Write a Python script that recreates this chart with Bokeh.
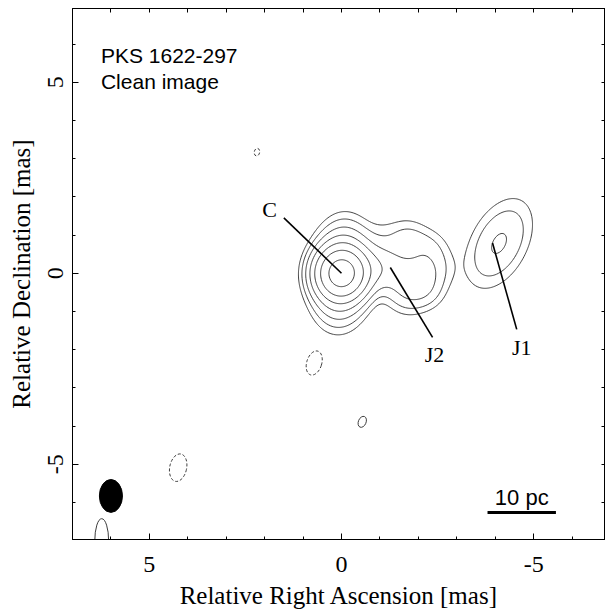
import numpy as np
import contourpy
from bokeh.plotting import figure
from bokeh.models import Range1d, LinearAxis, FixedTicker
from bokeh.core.properties import value
from bokeh.embed import file_html
from bokeh.resources import INLINE

# ---------------- data ----------------
# Gaussian model components of the clean image (RA offset, Dec offset in mas)
#            core  core  K     A      B      T      UR     R      LR     Bt     bridge J1
comp_ra   = [0.0,  0.0, -0.95, -1.60, -2.00, -1.70, -2.25, -2.40, -2.20, -1.70, -1.00, -4.10]
comp_dec  = [0.0,  0.0,  0.15, -0.05, -0.20,  0.90,  0.60,  0.10, -0.45, -0.60,  0.95,  0.78]
comp_flux = [75.0, 20.0, 5.5,  3.0,   2.4,   2.2,   2.2,   2.0,   2.0,   2.0,   0.8,   4.3]
comp_smaj = [0.36, 0.66, 0.38, 0.38,  0.33,  0.35,  0.35,  0.33,  0.33,  0.35,  0.35,  0.74]
comp_smin = [0.36, 0.40, 0.38, 0.38,  0.33,  0.35,  0.35,  0.33,  0.33,  0.35,  0.35,  0.43]
comp_pa   = [0.0,  95.0, 0.0,  0.0,   0.0,   0.0,   0.0,   0.0,   0.0,   0.0,   0.0, 117.0]
contour_levels = [1, 2, 4, 8, 16, 32, 64]

# isolated weak features (ellipses): negative (dashed) and positive (solid)
neg_ra  = [2.20, 0.71, 4.25]
neg_dec = [3.17, -2.35, -5.09]
neg_w   = [0.14, 0.39, 0.44]
neg_h   = [0.20, 0.65, 0.73]
neg_ang = [-0.2, -0.3, -0.2]
pos_ra  = [-0.54, 6.24]
pos_dec = [-3.89, -7.00]
pos_w   = [0.20, 0.36]
pos_h   = [0.30, 1.15]
pos_ang = [-0.4, 0.0]

# restoring beam
beam_ra, beam_dec, beam_w, beam_h = [6.0], [-5.83], [0.60], [0.86]

# scale bar (10 pc)
bar_ra = [-3.80, -5.58]
bar_dec = [-6.26, -6.26]

# component labels and pointer lines
lab_text = ["C", "J2", "J1"]
lab_ra = [1.87, -2.42, -4.69]
lab_dec = [1.66, -2.12, -1.94]
ptr_ra = [[1.50, 0.00], [-1.27, -2.37], [-3.93, -4.56]]
ptr_dec = [[1.45, 0.00], [0.15, -1.68], [0.79, -1.47]]

tick_major = [-5, 0, 5]
tick_minor = list(range(-7, 8))

# ---------------- model image ----------------
gx = np.linspace(-7.3, 7.3, 585)
gy = np.linspace(-7.3, 7.3, 585)
X, Y = np.meshgrid(gx, gy)
Z = np.zeros_like(X)
for x0, y0, f, smaj, smin, pa in zip(comp_ra, comp_dec, comp_flux, comp_smaj, comp_smin, comp_pa):
    t = np.deg2rad(pa)
    dx, dy = X - x0, Y - y0
    u = dx * np.cos(t) + dy * np.sin(t)
    v = -dx * np.sin(t) + dy * np.cos(t)
    Z += f * np.exp(-0.5 * ((u / smaj) ** 2 + (v / smin) ** 2))

gen = contourpy.contour_generator(gx, gy, Z, line_type="Separate")
cxs, cys = [], []
for lev in contour_levels:
    for seg in gen.lines(lev):
        cxs.append(seg[:, 0].tolist())
        cys.append(seg[:, 1].tolist())

# ---------------- figure ----------------
p = figure(width=605, height=611, x_range=Range1d(7.0, -6.87), y_range=Range1d(-6.97, 6.93),
           output_backend="svg", toolbar_location=None,
           x_axis_location=None, y_axis_location=None,
           min_border_left=72, min_border_right=0, min_border_top=8, min_border_bottom=70)
p.grid.visible = False
p.outline_line_color = "black"
p.outline_line_width = 1
p.background_fill_color = "white"
p.border_fill_color = "white"

serif = "Liberation Serif"
sans = "Liberation Sans"
overrides = {-5: "-5", 0: "0", 5: "5"}


def make_axis(label):
    ax = LinearAxis(ticker=FixedTicker(ticks=tick_major, minor_ticks=tick_minor))
    ax.major_tick_in = 6
    ax.major_tick_out = 0
    ax.minor_tick_in = 3
    ax.minor_tick_out = 0
    ax.axis_line_color = "black"
    ax.major_tick_line_color = "black"
    ax.minor_tick_line_color = "black"
    ax.major_label_overrides = overrides
    ax.major_label_text_font = serif
    ax.major_label_text_font_size = "24px"
    ax.major_label_text_color = "black"
    ax.axis_label = label
    ax.axis_label_text_font = serif
    ax.axis_label_text_font_size = "25px"
    ax.axis_label_text_font_style = "normal"
    ax.axis_label_text_color = "black"
    return ax


def tick_only_axis():
    # frame edge with tick marks only (no labels)
    ax = LinearAxis(ticker=FixedTicker(ticks=[], minor_ticks=tick_minor))
    ax.minor_tick_in = 4
    ax.minor_tick_out = 0
    ax.axis_line_color = "black"
    ax.minor_tick_line_color = "black"
    ax.major_label_standoff = 0
    return ax


bottom = make_axis("Relative Right Ascension [mas]")
bottom.major_label_standoff = 17
bottom.axis_label_standoff = 7
p.add_layout(bottom, "below")

left = make_axis("Relative Declination [mas]")
left.major_label_orientation = "vertical"
left.major_label_standoff = 9
left.axis_label_standoff = 11
p.add_layout(left, "left")

p.add_layout(tick_only_axis(), "above")
p.add_layout(tick_only_axis(), "right")

# contours
p.multi_line(cxs, cys, line_color="#3c3c3c", line_width=1)
p.ellipse(x=neg_ra, y=neg_dec, width=neg_w, height=neg_h, angle=neg_ang,
          fill_color=None, line_color="#3c3c3c", line_width=1, line_dash="3 2")
p.ellipse(x=pos_ra, y=pos_dec, width=pos_w, height=pos_h, angle=pos_ang,
          fill_color=None, line_color="#3c3c3c", line_width=1)

# beam
p.ellipse(x=beam_ra, y=beam_dec, width=beam_w, height=beam_h, fill_color="black", line_color="black")

# scale bar
p.line(bar_ra, bar_dec, line_color="black", line_width=3)
p.text(x=[-4.69], y=[-5.88], text=["10 pc"], text_font=value(sans), text_font_size="22px",
       text_align="center", text_baseline="alphabetic", text_color="black")

# component labels
p.multi_line(ptr_ra, ptr_dec, line_color="black", line_width=1.6)
p.text(x=lab_ra, y=lab_dec, text=lab_text, text_font=value(serif), text_font_size="22px",
       text_align="center", text_baseline="middle", text_color="black")

# title texts
p.text(x=[6.26, 6.26], y=[5.71, 5.03], text=["PKS 1622-297", "Clean image"], text_font=value(sans),
       text_font_size="21px", text_align="left", text_baseline="alphabetic", text_color="black")

open("out.html", "w").write(file_html(p, INLINE))
